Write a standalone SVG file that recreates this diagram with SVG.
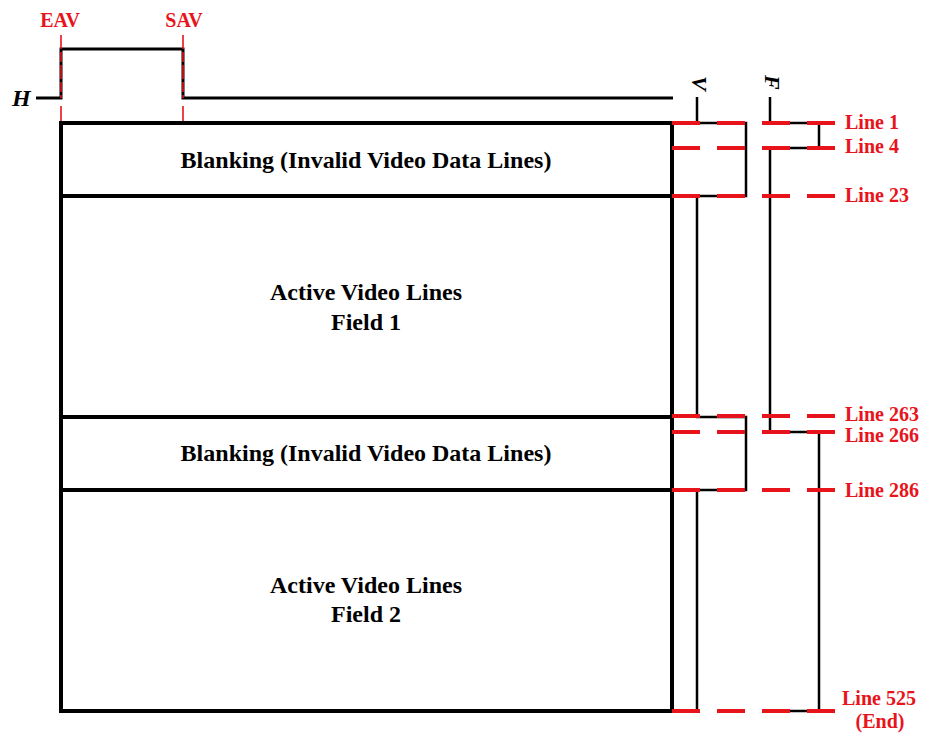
<svg xmlns="http://www.w3.org/2000/svg" width="931" height="734" viewBox="0 0 931 734">
<style>
.box{fill:none;stroke:#000;stroke-width:4}
.wave{fill:none;stroke:#000;stroke-width:3}
.sig{fill:none;stroke:#000;stroke-width:2.5}
.rd{stroke:#e8141b;stroke-width:4;stroke-dasharray:28 17;fill:none}
.rv{stroke:#e8141b;stroke-width:1.6;fill:none}
.t{font-family:"Liberation Serif",serif;font-weight:bold;font-size:24px;fill:#000;text-anchor:middle}
.lbl{font-family:"Liberation Serif",serif;font-weight:bold;font-size:20px;fill:#e8141b}
.sm{font-family:"Liberation Serif",serif;font-weight:bold;font-size:20px;fill:#e8141b;text-anchor:middle}
.it{font-family:"Liberation Serif",serif;font-weight:bold;font-style:italic;font-size:24px;fill:#000}
</style>
<rect width="931" height="734" fill="#fff"/>
<g id="h-wave">
<text class="it" x="12" y="106">H</text>
<polyline class="wave" points="36,98 61,98 61,49 183,49 183,98 673,98"/>
</g>
<g id="markers">
<text class="sm" x="60" y="27">EAV</text>
<text class="sm" x="184" y="27">SAV</text>
<line class="rv" x1="61" y1="35" x2="61" y2="98" stroke-dasharray="14 3 10 3"/>
<line class="rv" x1="61" y1="106" x2="61" y2="122"/>
<line class="rv" x1="183" y1="35" x2="183" y2="98" stroke-dasharray="14 3 10 3"/>
<line class="rv" x1="183" y1="106" x2="183" y2="122"/>
</g>
<g id="frame">
<rect class="box" x="61" y="123" width="611" height="588"/>
<line class="box" x1="61" y1="196" x2="672" y2="196"/>
<line class="box" x1="61" y1="417" x2="672" y2="417"/>
<line class="box" x1="61" y1="490" x2="672" y2="490"/>
</g>
<g id="blank1"><text class="t" x="366" y="168">Blanking (Invalid Video Data Lines)</text></g>
<g id="active1"><text class="t" x="366" y="300">Active Video Lines</text><text class="t" x="366" y="330">Field 1</text></g>
<g id="blank2"><text class="t" x="366" y="461">Blanking (Invalid Video Data Lines)</text></g>
<g id="active2"><text class="t" x="366" y="593">Active Video Lines</text><text class="t" x="366" y="622">Field 2</text></g>
<g id="v-signal">
<text class="it" transform="translate(692,76) rotate(90)" style="font-size:22px">V</text>
<polyline class="sig" points="697,97 697,123 746,123 746,196 697,196 697,417 746,417 746,490 697,490 697,711 672,711"/>
</g>
<g id="f-signal">
<text class="it" transform="translate(765,75) rotate(90)" style="font-size:22px">F</text>
<polyline class="sig" points="770,97 770,123 819,123 819,148 770,148 770,432 819,432 819,711 770,711"/>
</g>
<g id="connectors">
<line class="rd" x1="672" y1="123" x2="835" y2="123"/>
<line class="rd" x1="672" y1="148" x2="835" y2="148"/>
<line class="rd" x1="672" y1="196" x2="835" y2="196"/>
<line class="rd" x1="672" y1="416" x2="835" y2="416"/>
<line class="rd" x1="672" y1="432" x2="835" y2="432"/>
<line class="rd" x1="672" y1="490" x2="835" y2="490"/>
<line class="rd" x1="672" y1="711" x2="835" y2="711"/>
</g>
<g id="labels">
<text class="lbl" x="845" y="129">Line 1</text>
<text class="lbl" x="845" y="153">Line 4</text>
<text class="lbl" x="845" y="202">Line 23</text>
<text class="lbl" x="845" y="421">Line 263</text>
<text class="lbl" x="845" y="442">Line 266</text>
<text class="lbl" x="845" y="497">Line 286</text>
<text class="lbl" x="842" y="705">Line 525</text>
<text class="lbl" x="880" y="728" text-anchor="middle">(End)</text>
</g>
</svg>
